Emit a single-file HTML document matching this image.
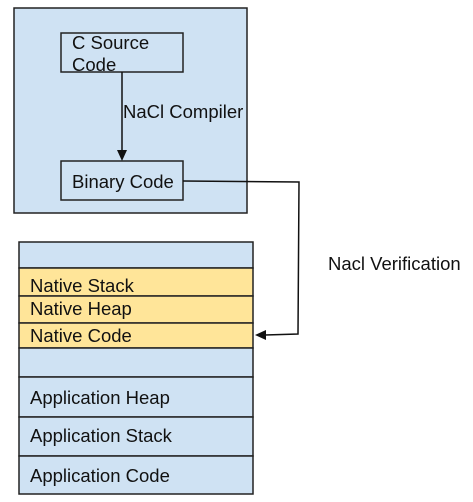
<!DOCTYPE html>
<html><head><style>html,body{margin:0;padding:0;background:#fff;}svg{display:block}
svg text{font-family:"Liberation Sans",Arial,sans-serif;font-size:18.5px;fill:#111;}</style></head>
<body>
<svg width="473" height="502" viewBox="0 0 473 502" xmlns="http://www.w3.org/2000/svg">
<rect x="14" y="8" width="233" height="205" fill="#cfe2f3" stroke="#222" stroke-width="1.5"/>
<rect x="61" y="33" width="122" height="39" fill="#cfe2f3" stroke="#222" stroke-width="1.5"/>
<text x="72" y="49">C Source</text>
<text x="72" y="71">Code</text>
<line x1="122" y1="72" x2="122" y2="150" stroke="#111" stroke-width="1.5"/>
<polygon points="117,150 127,150 122,161" fill="#111"/>
<text x="123" y="118">NaCl Compiler</text>
<rect x="61" y="161" width="122" height="39" fill="#cfe2f3" stroke="#222" stroke-width="1.5"/>
<text x="72" y="188">Binary Code</text>
<polyline points="183,181 299,182 298,334 265,335" fill="none" stroke="#111" stroke-width="1.5"/>
<polygon points="255,335 266,330 266,340" fill="#111"/>
<text x="328" y="270">Nacl Verification</text>
<g stroke="#222" stroke-width="1.5">
<rect x="19" y="242" width="234" height="26" fill="#cfe2f3"/>
<rect x="19" y="268" width="234" height="28" fill="#ffe599"/>
<rect x="19" y="296" width="234" height="27" fill="#ffe599"/>
<rect x="19" y="323" width="234" height="25" fill="#ffe599"/>
<rect x="19" y="348" width="234" height="29" fill="#cfe2f3"/>
<rect x="19" y="377" width="234" height="40" fill="#cfe2f3"/>
<rect x="19" y="417" width="234" height="39" fill="#cfe2f3"/>
<rect x="19" y="456" width="234" height="38" fill="#cfe2f3"/>
</g>
<text x="30" y="292">Native Stack</text>
<text x="30" y="315">Native Heap</text>
<text x="30" y="342">Native Code</text>
<text x="30" y="404">Application Heap</text>
<text x="30" y="442">Application Stack</text>
<text x="30" y="482">Application Code</text>
</svg>
</body></html>
